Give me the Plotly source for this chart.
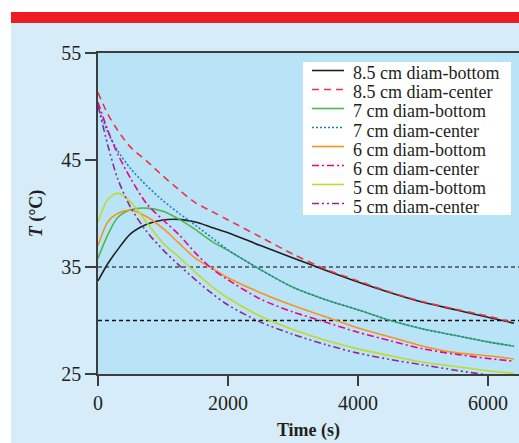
import plotly.graph_objects as go

# ---------------- data ----------------
time_s = [0, 150, 300, 500, 750, 1000, 1250, 1500, 1750, 2000, 2500, 3000,
          3500, 4000, 4500, 5000, 5500, 6000, 6400]

d85_bottom = [33.7, 35.3, 36.6, 38.1, 39.0, 39.4, 39.45, 39.2, 38.7, 38.2, 37.0, 35.85,
              34.7, 33.6, 32.6, 31.7, 31.0, 30.3, 29.75]
d85_center = [51.3, 49.3, 47.8, 46.2, 44.9, 43.5, 42.2, 41.0, 40.2, 39.4, 37.8, 36.2,
              34.8, 33.7, 32.65, 31.75, 31.05, 30.4, 29.8]
d7_bottom = [35.8, 38.0, 39.6, 40.35, 40.5, 40.2, 39.45, 38.5, 37.4, 36.55, 34.75, 33.1,
             31.95, 31.0, 30.0, 29.2, 28.6, 28.0, 27.6]
d7_center = [49.9, 47.6, 45.9, 44.2, 42.6, 41.2, 40.0, 38.9, 37.75, 36.6, 34.75, 33.1,
             31.95, 31.0, 30.0, 29.2, 28.6, 28.0, 27.6]
d6_bottom = [37.0, 39.2, 40.0, 40.3, 39.7, 38.6, 37.2, 35.8, 34.9, 34.0, 32.6, 31.4,
             30.35, 29.3, 28.45, 27.6, 27.0, 26.7, 26.4]
d6_center = [50.4, 47.8, 45.6, 43.3, 40.9, 39.4, 38.0, 36.3, 34.85, 33.8, 32.0, 30.8,
             29.85, 28.9, 28.1, 27.35, 26.85, 26.45, 26.2]
d5_bottom = [39.2, 41.3, 41.9, 41.1, 39.15, 37.25, 35.9, 34.5, 33.2, 32.1, 30.4, 29.15,
             28.15, 27.35, 26.7, 26.1, 25.7, 25.3, 25.05]
d5_center = [50.1, 46.4, 43.3, 40.6, 38.3, 36.6, 35.15, 33.8, 32.55, 31.45, 29.85, 28.7,
             27.75, 26.95, 26.35, 25.85, 25.35, 24.9, 24.6]

series_names = ["8.5 cm diam-bottom", "8.5 cm diam-center", "7 cm diam-bottom",
                "7 cm diam-center", "6 cm diam-bottom", "6 cm diam-center",
                "5 cm diam-bottom", "5 cm diam-center"]
series_values = [d85_bottom, d85_center, d7_bottom, d7_center,
                 d6_bottom, d6_center, d5_bottom, d5_center]

ref_levels = [35, 30]
x_ticks = [0, 2000, 4000, 6000]
y_ticks = [25, 35, 45, 55]

# ---------------- styles ----------------
colors = ["#231f20", "#ef3340", "#4db848", "#1f7fc4",
          "#f7931e", "#ec008c", "#c2d82f", "#92278f"]
dashes = ["solid", "7px,5px", "solid", "2px,2px",
          "solid", "7px,3px,2px,3px", "solid", "7px,3px,2px,3px,2px,3px"]

W, H = 519, 443
ML, MR, MT, MB = 98, 0, 53, 69
PW, PH = W - ML - MR, H - MT - MB
SERIF = "Liberation Serif, Times New Roman, serif"
TXT = "#231f20"
AX = "#3d3d3d"


def px(xp):
    return (xp - ML) / PW


def py(yp):
    return (H - MB - yp) / PH


fig = go.Figure()
for name, vals, c, d in zip(series_names, series_values, colors, dashes):
    fig.add_trace(go.Scatter(x=time_s, y=vals, mode="lines", name=name,
                             line=dict(color=c, width=1.6, dash=d, shape="spline",
                                       smoothing=0.8),
                             showlegend=False))

shapes = []
# page decoration: white margins and red band
shapes.append(dict(type="rect", xref="paper", yref="paper", x0=px(0), x1=px(W + 5),
                   y0=py(12), y1=py(-5), fillcolor="white", line_width=0, layer="below"))
shapes.append(dict(type="rect", xref="paper", yref="paper", x0=px(-5), x1=px(11),
                   y0=py(H + 5), y1=py(-5), fillcolor="white", line_width=0, layer="below"))
shapes.append(dict(type="rect", xref="paper", yref="paper", x0=px(11), x1=px(W + 5),
                   y0=py(23), y1=py(12), fillcolor="#ed1c24", line_width=0, layer="below"))
# reference levels
for lvl, col in zip(ref_levels, ["#4a4a4a", "#111111"]):
    shapes.append(dict(type="line", xref="paper", yref="y", x0=0, x1=1, y0=lvl, y1=lvl,
                       line=dict(color=col, width=1.3, dash="4px,3px"), layer="below"))

# custom legend
shapes.append(dict(type="rect", xref="paper", yref="paper", x0=px(303), x1=px(511),
                   y0=py(215), y1=py(62), fillcolor="white", line_width=0, layer="above"))
annotations = []
row0, step = 70.5, 19
for i, (name, c, d) in enumerate(zip(series_names, colors, dashes)):
    yl = row0 + i * step
    shapes.append(dict(type="line", xref="paper", yref="paper", x0=px(312), x1=px(344),
                       y0=py(yl), y1=py(yl), line=dict(color=c, width=1.6, dash=d),
                       layer="above"))
    annotations.append(dict(xref="paper", yref="paper", x=px(352), y=py(yl + 3),
                            xanchor="left", yanchor="middle", text=name, showarrow=False,
                            borderpad=0,
                            font=dict(family=SERIF, size=18, color=TXT)))

fig.update_layout(
    width=W, height=H,
    margin=dict(l=ML, r=MR, t=MT, b=MB),
    paper_bgcolor="#d6edf9",
    plot_bgcolor="#b9e4f8",
    shapes=shapes,
    annotations=annotations,
    font=dict(family=SERIF, color=TXT),
)
fig.update_xaxes(range=[0, 6477], tickvals=x_ticks, ticks="outside", ticklen=10,
                 tickwidth=1.5, tickcolor=AX, showline=True, linecolor=AX, linewidth=1.6,
                 mirror=True, showgrid=False, zeroline=False,
                 tickfont=dict(family=SERIF, size=20, color=TXT),
                 title=dict(text="<b>Time (s)</b>", font=dict(family=SERIF, size=18, color=TXT),
                            standoff=11))
fig.update_yaxes(range=[25, 55], tickvals=y_ticks, ticks="outside", ticklen=11,
                 tickwidth=1.5, tickcolor=AX, showline=True, linecolor=AX, linewidth=1.6,
                 showgrid=False, zeroline=False,
                 tickfont=dict(family=SERIF, size=20, color=TXT),
                 title=dict(text="<b><i>T</i> (°C)</b>", font=dict(family=SERIF, size=18, color=TXT),
                            standoff=14))

fig.write_html("out.html", config={"displayModeBar": False},
               post_script="document.body.style.margin='0px';document.body.style.overflow='hidden';")
